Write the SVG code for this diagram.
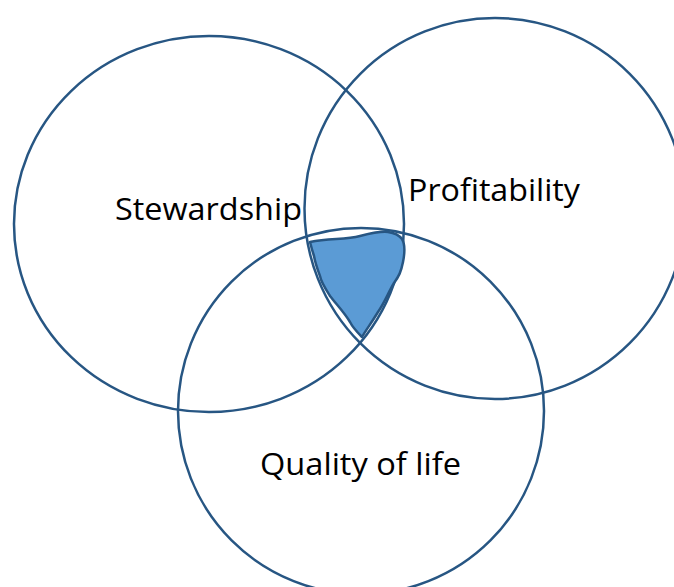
<svg xmlns="http://www.w3.org/2000/svg" width="674" height="587" viewBox="0 0 674 587">
<style>
.c{fill:none;stroke:#275683;stroke-width:2.5}
.t{font-family:"Open Sans","Liberation Sans",sans-serif;font-size:31.5px;fill:#000}
.b{fill:#5b9bd5;stroke:#275683;stroke-width:2.5;stroke-linejoin:round}
</style>
<rect width="674" height="587" fill="#fff"/>
<g id="stewardship">
<ellipse class="c" cx="209" cy="224" rx="195" ry="188"/>
<text class="t" x="115" y="220" textLength="187" lengthAdjust="spacingAndGlyphs">Stewardship</text>
</g>
<g id="profitability">
<circle class="c" cx="495" cy="208.5" r="190.5"/>
<text class="t" x="408" y="201" textLength="172" lengthAdjust="spacingAndGlyphs">Profitability</text>
</g>
<g id="quality">
<circle class="c" cx="361" cy="411" r="183"/>
<text class="t" x="260" y="475" textLength="201" lengthAdjust="spacingAndGlyphs">Quality of life</text>
</g>
<g id="center">
<path class="b" d="M310,242 C330,238 345,240 360,236 C372,233 380,231 388,232 C395,233 399,235 402,239 C405,244 405,252 403,262 C401,272 399,276 394,283 C388,293 385,302 378,312 C372,322 366,330 362,337 C357,332 353,328 350,322 C344,312 336,304 330,296 C325,288 321,282 320,276 C317,268 315,262 314,256 C312,250 311,246 310,242 Z"/>
</g>
</svg>
